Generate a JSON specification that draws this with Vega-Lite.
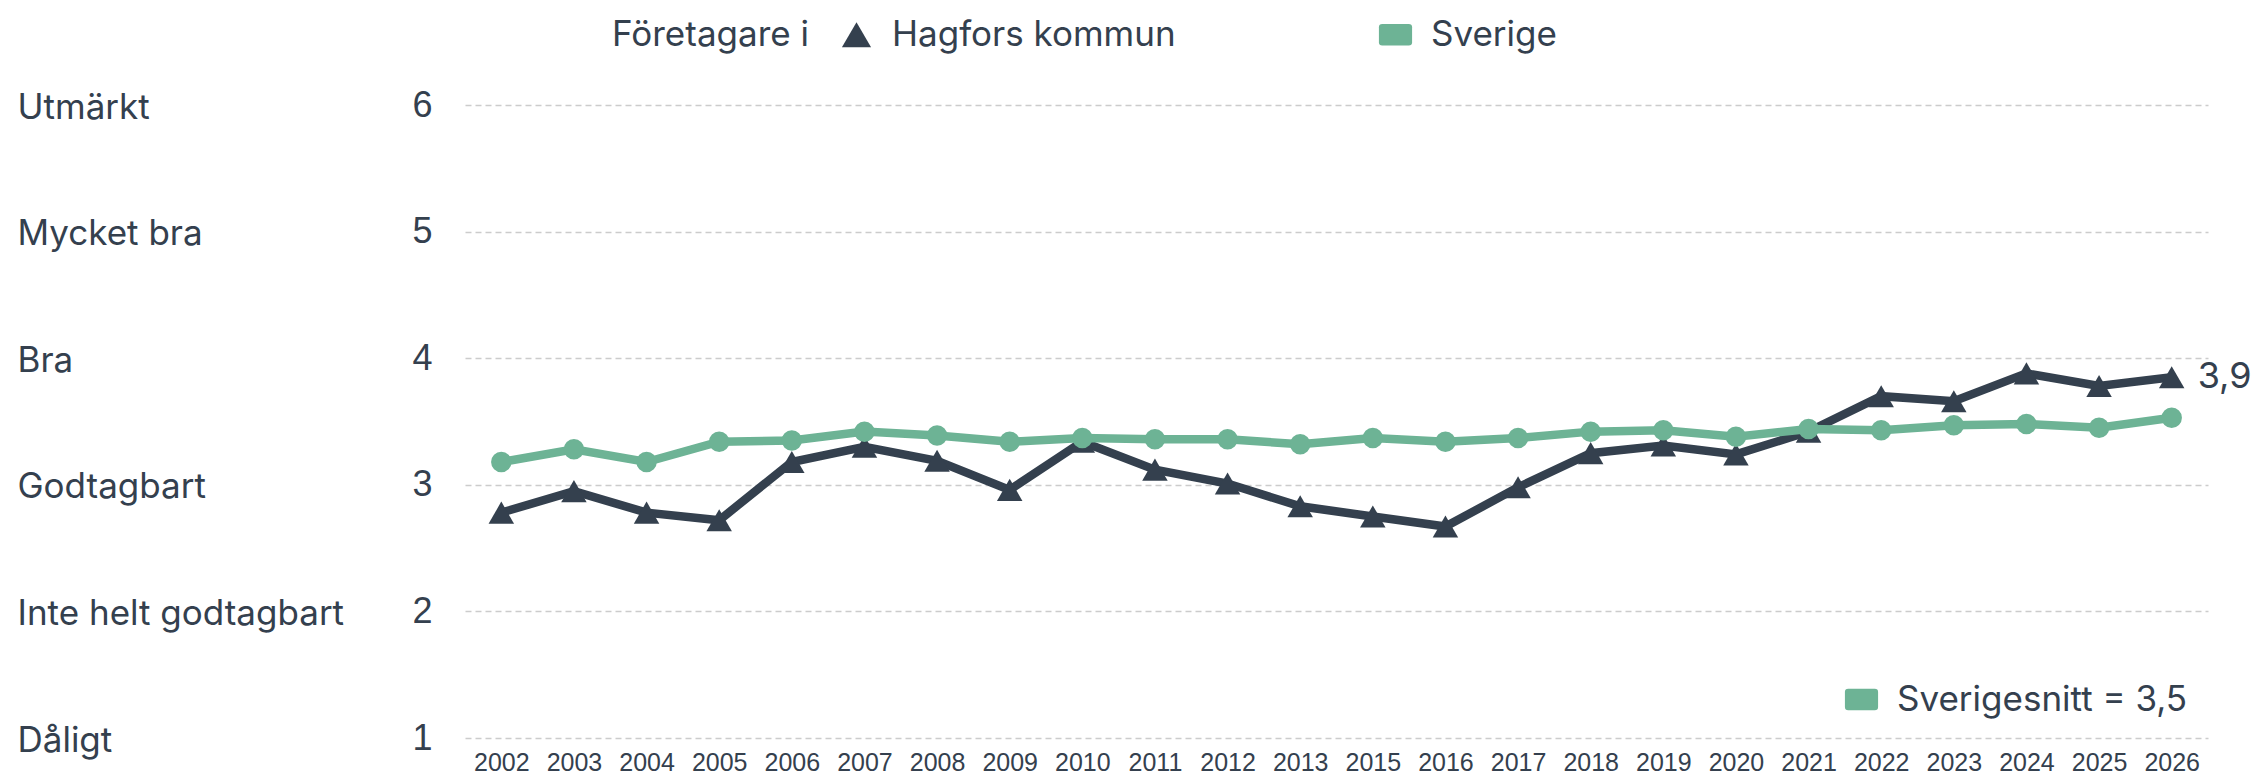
{
  "$schema": "https://vega.github.io/schema/vega-lite/v6.json",
  "width": 1743,
  "height": 633,
  "autosize": {"type": "none"},
  "padding": {"left": 465, "top": 105, "right": 52, "bottom": 43},
  "background": "white",
  "datasets": {
    "main": [
      {"year": "2002", "series": "Hagfors kommun", "value": 2.78},
      {"year": "2003", "series": "Hagfors kommun", "value": 2.95},
      {"year": "2004", "series": "Hagfors kommun", "value": 2.78},
      {"year": "2005", "series": "Hagfors kommun", "value": 2.72},
      {"year": "2006", "series": "Hagfors kommun", "value": 3.18},
      {"year": "2007", "series": "Hagfors kommun", "value": 3.30},
      {"year": "2008", "series": "Hagfors kommun", "value": 3.19},
      {"year": "2009", "series": "Hagfors kommun", "value": 2.96},
      {"year": "2010", "series": "Hagfors kommun", "value": 3.34},
      {"year": "2011", "series": "Hagfors kommun", "value": 3.12},
      {"year": "2012", "series": "Hagfors kommun", "value": 3.01},
      {"year": "2013", "series": "Hagfors kommun", "value": 2.83},
      {"year": "2015", "series": "Hagfors kommun", "value": 2.75},
      {"year": "2016", "series": "Hagfors kommun", "value": 2.67},
      {"year": "2017", "series": "Hagfors kommun", "value": 2.98},
      {"year": "2018", "series": "Hagfors kommun", "value": 3.25},
      {"year": "2019", "series": "Hagfors kommun", "value": 3.31},
      {"year": "2020", "series": "Hagfors kommun", "value": 3.24},
      {"year": "2021", "series": "Hagfors kommun", "value": 3.42},
      {"year": "2022", "series": "Hagfors kommun", "value": 3.70},
      {"year": "2023", "series": "Hagfors kommun", "value": 3.66},
      {"year": "2024", "series": "Hagfors kommun", "value": 3.88},
      {"year": "2025", "series": "Hagfors kommun", "value": 3.78},
      {"year": "2026", "series": "Hagfors kommun", "value": 3.85, "label": "3,9"},
      {"year": "2002", "series": "Sverige", "value": 3.18},
      {"year": "2003", "series": "Sverige", "value": 3.28},
      {"year": "2004", "series": "Sverige", "value": 3.18},
      {"year": "2005", "series": "Sverige", "value": 3.34},
      {"year": "2006", "series": "Sverige", "value": 3.35},
      {"year": "2007", "series": "Sverige", "value": 3.42},
      {"year": "2008", "series": "Sverige", "value": 3.39},
      {"year": "2009", "series": "Sverige", "value": 3.34},
      {"year": "2010", "series": "Sverige", "value": 3.37},
      {"year": "2011", "series": "Sverige", "value": 3.36},
      {"year": "2012", "series": "Sverige", "value": 3.36},
      {"year": "2013", "series": "Sverige", "value": 3.32},
      {"year": "2015", "series": "Sverige", "value": 3.37},
      {"year": "2016", "series": "Sverige", "value": 3.34},
      {"year": "2017", "series": "Sverige", "value": 3.37},
      {"year": "2018", "series": "Sverige", "value": 3.42},
      {"year": "2019", "series": "Sverige", "value": 3.43},
      {"year": "2020", "series": "Sverige", "value": 3.38},
      {"year": "2021", "series": "Sverige", "value": 3.44},
      {"year": "2022", "series": "Sverige", "value": 3.43},
      {"year": "2023", "series": "Sverige", "value": 3.47},
      {"year": "2024", "series": "Sverige", "value": 3.48},
      {"year": "2025", "series": "Sverige", "value": 3.45},
      {"year": "2026", "series": "Sverige", "value": 3.53}
    ],
    "avg": [
      {"year": "2026", "value": 3.5, "avg": "Sverigesnitt = 3,5"}
    ]
  },
  "data": {"name": "main"},
  "layer": [
    {
      "mark": {"type": "line", "strokeWidth": 8.5},
      "encoding": {
        "x": {"field": "year", "type": "ordinal", "title": null},
        "y": {
          "field": "value", "type": "quantitative",
          "scale": {"domain": [1, 6], "nice": false, "zero": false},
          "axis": {
            "orient": "left", "values": [1, 2, 3, 4, 5, 6], "grid": false,
            "labelExpr": "['','Dåligt','Inte helt godtagbart','Godtagbart','Bra','Mycket bra','Utmärkt'][datum.value]",
            "labelAlign": "left", "labelPadding": 448, "labelFont": "Inter", "labelFontSize": 35,
            "labelBaseline": "middle", "labelOffset": 2, "labelLimit": 0, "title": null
          }
        },
        "color": {
          "field": "series", "type": "nominal",
          "scale": {"domain": ["Hagfors kommun", "Sverige"], "range": ["#34404e", "#6db395"]},
          "legend": {
            "title": "Företagare i", "orient": "none", "legendX": 147, "legendY": -88,
            "direction": "horizontal", "titleOrient": "left", "titleFont": "Inter",
            "titleFontSize": 35, "titleFontWeight": "normal", "titleColor": "#34404e",
            "titlePadding": 30, "titleBaseline": "middle", "titleLimit": 0,
            "labelFont": "Inter", "labelFontSize": 35, "labelColor": "#34404e", "labelOffset": 18,
            "labelLimit": 0,
            "columnPadding": 202, "symbolSize": 800, "symbolStrokeWidth": 0,
            "encode": {
              "symbols": {
                "update": {
                  "shape": {"signal": "datum.value === 'Hagfors kommun' ? 'triangle-up' : 'M-1,-0.45 Q-1,-0.65 -0.8,-0.65 L0.8,-0.65 Q1,-0.65 1,-0.45 L1,0.45 Q1,0.65 0.8,0.65 L-0.8,0.65 Q-1,0.65 -1,0.45 Z'"},
                  "size": {"signal": "datum.value === 'Hagfors kommun' ? 850 : 1100"},
                  "fill": {"scale": "color", "field": "value"},
                  "opacity": {"value": 1},
                  "strokeWidth": {"value": 0}
                }
              }
            }
          }
        }
      }
    },
    {
      "transform": [{"filter": "datum.series === 'Hagfors kommun'"}],
      "mark": {"type": "point", "filled": true, "opacity": 1, "shape": "triangle-up", "size": 650, "color": "#34404e"},
      "encoding": {
        "x": {"field": "year", "type": "ordinal", "title": null},
        "y": {
          "field": "value", "type": "quantitative",
          "axis": {
            "orient": "left", "values": [1, 2, 3, 4, 5, 6], "grid": true,
            "labelPadding": 33, "labelFont": "Liberation Sans", "labelFontSize": 36,
            "title": null
          }
        }
      }
    },
    {
      "transform": [{"filter": "datum.series === 'Sverige'"}],
      "mark": {"type": "point", "filled": true, "opacity": 1, "shape": "circle", "size": 420, "color": "#6db395"},
      "encoding": {
        "x": {"field": "year", "type": "ordinal", "title": null},
        "y": {"field": "value", "type": "quantitative", "axis": null}
      }
    },
    {
      "transform": [{"filter": "datum.label != null"}],
      "mark": {"type": "text", "align": "left", "baseline": "middle", "dx": 26, "font": "Inter", "fontSize": 36, "color": "#34404e"},
      "encoding": {
        "x": {"field": "year", "type": "ordinal", "title": null},
        "y": {"field": "value", "type": "quantitative", "axis": null},
        "text": {"field": "label"}
      }
    },
    {
      "data": {"name": "avg"},
      "mark": {"type": "point", "filled": true, "opacity": 0},
      "encoding": {
        "x": {"field": "year", "type": "ordinal", "title": null},
        "y": {"field": "value", "type": "quantitative", "axis": null},
        "fill": {
          "field": "avg", "type": "nominal",
          "scale": {"range": ["#6db395"]},
          "legend": {
            "title": null, "orient": "bottom-right", "offset": 20,
            "labelFont": "Inter", "labelFontSize": 35, "labelColor": "#34404e", "labelOffset": 18,
            "labelLimit": 0,
            "symbolSize": 1100, "symbolStrokeWidth": 0,
            "symbolType": "M-1,-0.45 Q-1,-0.65 -0.8,-0.65 L0.8,-0.65 Q1,-0.65 1,-0.45 L1,0.45 Q1,0.65 0.8,0.65 L-0.8,0.65 Q-1,0.65 -1,0.45 Z",
            "encode": {"symbols": {"update": {"opacity": {"value": 1}, "fill": {"value": "#6db395"}}}}
          }
        }
      }
    }
  ],
  "resolve": {"scale": {"y": "shared"}, "axis": {"y": "independent"}},
  "config": {
    "view": {"stroke": null},
    "axis": {"domain": false, "ticks": false, "labelColor": "#34404e", "title": null},
    "axisX": {"labelFont": "Liberation Sans", "labelFontSize": 25, "labelPadding": 12, "labelAngle": 0, "grid": false},
    "axisY": {"gridDash": [6, 4], "gridColor": "#cccccc", "gridWidth": 1.5}
  }
}
